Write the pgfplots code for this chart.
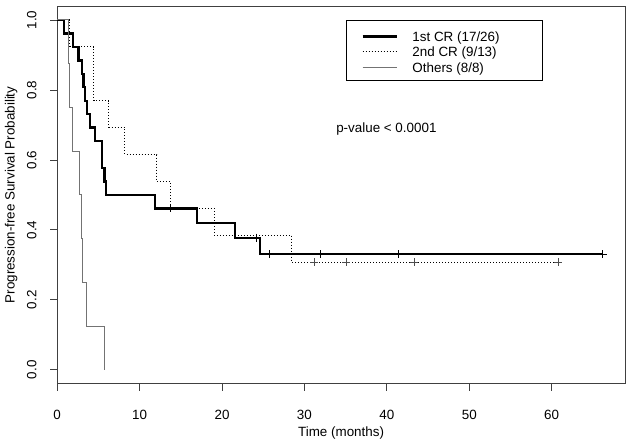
\documentclass[border=0pt]{standalone}
\usepackage{pgfplots}
\pgfplotsset{compat=1.18}
\usepackage{fontspec}
\setmainfont{Liberation Sans}
\newcommand{\f}{\fontsize{13.4}{16}\selectfont}
\begin{document}
\begin{tikzpicture}[font=\f]
\begin{axis}[
  scale only axis, width=567.8pt, height=377.8pt,
  at={(0pt,0pt)}, anchor=south west,
  xmin=0, xmax=68.9, ymin=-0.04, ymax=1.04,
  axis line style={black!75, line width=0.8pt},
  xtick={0,10,20,30,40,50,60}, ytick={0,0.2,0.4,0.6,0.8,1},
  tick align=outside, major tick length=7pt,
  xtick pos=bottom, ytick pos=left,
  tick style={black!75, line width=0.8pt},
  /pgf/number format/assume math mode=true,
  yticklabel={\pgfmathprintnumber[fixed, fixed zerofill, precision=1]{\tick}},
  xticklabel style={anchor=base, inner sep=0pt, yshift=-28.2pt},
  yticklabel style={xshift=-13.9pt, rotate=90, anchor=base, inner sep=0pt},
  xlabel={Time (months)}, ylabel={Progression-free Survival Probability},
  every axis x label/.style={at={(rel axis cs:0.5,0)}, yshift=-52.8pt, anchor=base, inner sep=0pt},
  every axis y label/.style={at={(rel axis cs:0,0.5)}, xshift=-42.6pt, rotate=90, anchor=base, inner sep=0pt},
  legend style={at={(rel axis cs:0.5078,0.9627)}, anchor=north west, draw=black, line width=0.9pt,
    inner xsep=15.5pt, inner ysep=6.95pt, row sep=0pt, column sep=0pt,
    nodes={inner sep=0pt}, cells={anchor=base west}},
  legend image code/.code={\path[draw=none, fill=none] (0pt,0pt) rectangle (49.8pt,9pt); \draw[#1] (0pt,4.8pt) -- (34pt,4.8pt);},
]
\addplot[const plot, black, line width=2.4pt] coordinates {
(0,1) (0.8,0.9615) (1.95,0.9231) (2.6,0.8846) (3.0,0.8462) (3.2,0.8077) (3.4,0.7692)
(3.6,0.7308) (3.95,0.6923) (4.6,0.6538) (5.44,0.5769) (5.72,0.5385) (5.95,0.5)
(11.85,0.4615) (16.93,0.4196) (21.6,0.3776) (24.6,0.3304) (66.2,0.3304)};
\addlegendentry{\makebox[114.1pt][l]{\rule[-1.55pt]{0pt}{15.4pt}1st CR (17/26)}}
\addplot[const plot, black, line width=1pt, dash pattern=on 1pt off 2pt] coordinates {
(0,1) (1.55,0.9231) (4.45,0.7692) (6.25,0.6923) (8.2,0.6154) (12.07,0.5385)
(13.7,0.4615) (19.05,0.3846) (28.45,0.3077) (60.8,0.3077)};
\addlegendentry{\makebox[114.1pt][l]{\rule[-1.55pt]{0pt}{15.4pt}2nd CR (9/13)}}
\addplot[const plot, black!55, line width=1pt] coordinates {
(0,1) (1.4,0.875) (1.5,0.75) (1.8,0.625) (2.65,0.5) (2.9,0.375) (3.1,0.25)
(3.5,0.125) (5.72,0)};
\addlegendentry{\makebox[114.1pt][l]{\rule[-1.55pt]{0pt}{15.4pt}Others (8/8)}}
\addplot[forget plot, only marks, mark=+, mark size=4pt, black, line width=0.8pt] coordinates {
(13.7,0.4615) (24.2,0.3776) (25.8,0.3304) (31.9,0.3304) (41.4,0.3304) (66.2,0.3304)};
\addplot[forget plot, only marks, mark=+, mark size=4pt, black!70, line width=0.8pt] coordinates {
(31.2,0.3077) (35.1,0.3077) (43.3,0.3077) (60.8,0.3077)};
\node[anchor=base west, inner sep=0pt] at (axis cs:33.84,0.679) {p-value < 0.0001};
\end{axis}
\pgfresetboundingbox
\useasboundingbox (-57.2pt,-63.2pt) rectangle (573.8pt,383.8pt);
\end{tikzpicture}
\end{document}
